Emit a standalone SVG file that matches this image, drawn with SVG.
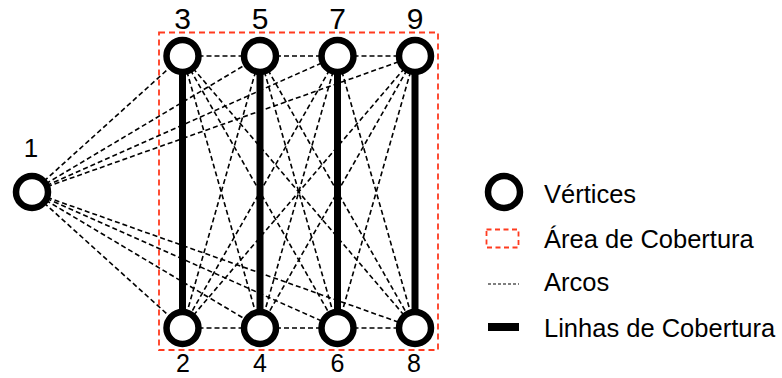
<svg xmlns="http://www.w3.org/2000/svg" width="782" height="378" viewBox="0 0 782 378">
  <style>
    .arc { stroke: #000; stroke-width: 1.6; stroke-dasharray: 5 3; fill: none; }
    .cover { stroke: #000; stroke-width: 7; fill: none; }
    .vertex { fill: #fff; stroke: #000; stroke-width: 6.5; }
    .area { fill: none; stroke: #ff3b1f; stroke-width: 1.8; stroke-dasharray: 6 4; }
    .num { font-family: "Liberation Sans", Arial, sans-serif; fill: #000; text-anchor: middle; }
    .legend { font-family: "Liberation Sans", Arial, sans-serif; font-size: 25.5px; fill: #000; }
  </style>
  <rect width="782" height="378" fill="#fff"/>

  <!-- coverage area -->
  <rect id="area" class="area" x="159" y="32.5" width="279" height="317.5"/>

  <!-- connectors -->
  <g id="connectors">
    <g id="arcs">
      <!-- from vertex 1 -->
      <line class="arc" x1="32" y1="192" x2="182.5" y2="56"/>
      <line class="arc" x1="32" y1="192" x2="260" y2="56"/>
      <line class="arc" x1="32" y1="192" x2="337.5" y2="56"/>
      <line class="arc" x1="32" y1="192" x2="415" y2="56"/>
      <line class="arc" x1="32" y1="192" x2="182.5" y2="328"/>
      <line class="arc" x1="32" y1="192" x2="260" y2="328"/>
      <line class="arc" x1="32" y1="192" x2="337.5" y2="328"/>
      <line class="arc" x1="32" y1="192" x2="415" y2="328"/>
      <!-- top row -->
      <line class="arc" x1="182.5" y1="56" x2="260" y2="56"/>
      <line class="arc" x1="260" y1="56" x2="337.5" y2="56"/>
      <line class="arc" x1="337.5" y1="56" x2="415" y2="56"/>
      <!-- bottom row -->
      <line class="arc" x1="182.5" y1="328" x2="260" y2="328"/>
      <line class="arc" x1="260" y1="328" x2="337.5" y2="328"/>
      <line class="arc" x1="337.5" y1="328" x2="415" y2="328"/>
      <!-- top to bottom -->
      <line class="arc" x1="182.5" y1="56" x2="260" y2="328"/>
      <line class="arc" x1="182.5" y1="56" x2="337.5" y2="328"/>
      <line class="arc" x1="182.5" y1="56" x2="415" y2="328"/>
      <line class="arc" x1="260" y1="56" x2="182.5" y2="328"/>
      <line class="arc" x1="260" y1="56" x2="337.5" y2="328"/>
      <line class="arc" x1="260" y1="56" x2="415" y2="328"/>
      <line class="arc" x1="337.5" y1="56" x2="182.5" y2="328"/>
      <line class="arc" x1="337.5" y1="56" x2="260" y2="328"/>
      <line class="arc" x1="337.5" y1="56" x2="415" y2="328"/>
      <line class="arc" x1="415" y1="56" x2="182.5" y2="328"/>
      <line class="arc" x1="415" y1="56" x2="260" y2="328"/>
      <line class="arc" x1="415" y1="56" x2="337.5" y2="328"/>
    </g>
    <g id="cover-lines">
      <line class="cover" x1="182.5" y1="56" x2="182.5" y2="328"/>
      <line class="cover" x1="260" y1="56" x2="260" y2="328"/>
      <line class="cover" x1="337.5" y1="56" x2="337.5" y2="328"/>
      <line class="cover" x1="415" y1="56" x2="415" y2="328"/>
    </g>
  </g>

  <!-- vertices -->
  <g id="v1"><circle class="vertex" cx="32" cy="192" r="16"/><text class="num" x="31" y="157" font-size="26">1</text></g>
  <g id="v3"><circle class="vertex" cx="182.5" cy="56" r="16"/><text class="num" x="182.5" y="28.5" font-size="30">3</text></g>
  <g id="v5"><circle class="vertex" cx="260" cy="56" r="16"/><text class="num" x="260" y="28.5" font-size="30">5</text></g>
  <g id="v7"><circle class="vertex" cx="337.5" cy="56" r="16"/><text class="num" x="337.5" y="28.5" font-size="30">7</text></g>
  <g id="v9"><circle class="vertex" cx="415" cy="56" r="16"/><text class="num" x="415" y="28.5" font-size="30">9</text></g>
  <g id="v2"><circle class="vertex" cx="182.5" cy="328" r="16"/><text class="num" x="183" y="372" font-size="25">2</text></g>
  <g id="v4"><circle class="vertex" cx="260" cy="328" r="16"/><text class="num" x="260" y="372" font-size="25">4</text></g>
  <g id="v6"><circle class="vertex" cx="337.5" cy="328" r="16"/><text class="num" x="337.5" y="372" font-size="25">6</text></g>
  <g id="v8"><circle class="vertex" cx="415" cy="328" r="16"/><text class="num" x="414" y="372" font-size="25">8</text></g>

  <!-- legend -->
  <g id="legend">
    <circle class="vertex" cx="504" cy="192" r="16"/>
    <text class="legend" x="544" y="203">Vértices</text>
    <rect x="486.5" y="229.5" width="32" height="18" fill="none" stroke="#ff3b1f" stroke-width="1.8" stroke-dasharray="5 3.5"/>
    <text class="legend" x="544" y="248">Área de Cobertura</text>
    <line x1="488" y1="284" x2="519" y2="284" stroke="#000" stroke-width="1.2" stroke-dasharray="3 2"/>
    <text class="legend" x="544" y="291">Arcos</text>
    <line x1="488" y1="327" x2="519" y2="327" stroke="#000" stroke-width="8"/>
    <text class="legend" x="544" y="337">Linhas de Cobertura</text>
  </g>
</svg>
